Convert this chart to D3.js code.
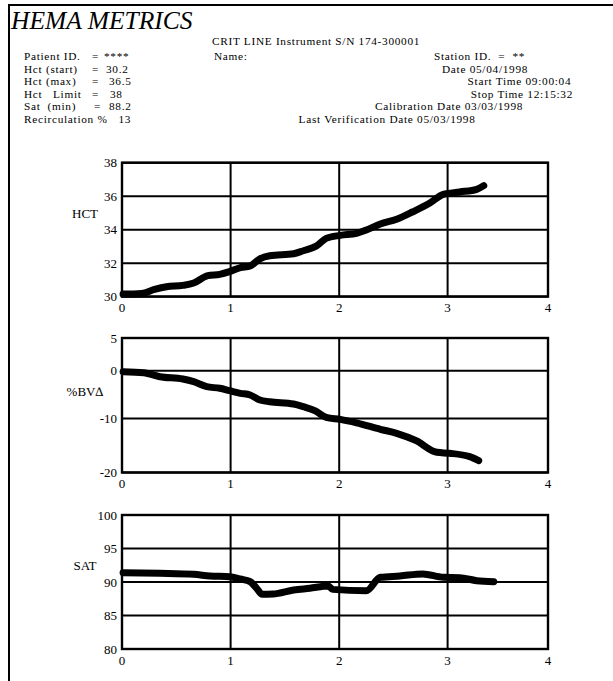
<!DOCTYPE html>
<html>
<head>
<meta charset="utf-8">
<script src="https://cdn.jsdelivr.net/npm/d3@7"></script>
<style>
  html, body { margin: 0; padding: 0; background: #fff; }
  svg { display: block; }
  text { font-family: "Liberation Serif", "Times New Roman", serif; fill: #000; white-space: pre; }
  .hdr { font-size: 11.3px; letter-spacing: 0.7px; }
</style>
</head>
<body>
<svg id="chart" width="613" height="681"></svg>
<script>
// ---------- data ----------
const title = "HEMA METRICS";
const instrumentLine = "CRIT LINE Instrument S/N 174-300001";
const leftLabels = ["Patient ID.", "Hct (start)", "Hct (max)", "Hct   Limit", "Sat  (min)", "Recirculation %"];
const leftEquals = ["=", "=", "=", "=", "=", ""];
const leftValues = ["****", "30.2", "36.5", "38", "88.2", "13"];
const nameLabel = "Name:";
const rightInfo = [
  "Station ID.  =  **",
  "Date 05/04/1998",
  "Start Time 09:00:04",
  "Stop Time 12:15:32",
  "Calibration Date 03/03/1998",
  "Last Verification Date 05/03/1998"
];

const xTicks = [0, 1, 2, 3, 4];

const hctTime  = [0.01, 0.18, 0.30, 0.41, 0.56, 0.66, 0.79, 0.90, 0.99, 1.09, 1.18, 1.27, 1.36, 1.58, 1.67, 1.79, 1.88, 2.01, 2.16, 2.25, 2.38, 2.53, 2.68, 2.84, 2.96, 3.12, 3.29, 3.36];
const hctValue = [30.15, 30.19, 30.43, 30.59, 30.67, 30.81, 31.25, 31.33, 31.49, 31.73, 31.83, 32.26, 32.44, 32.56, 32.74, 33.02, 33.48, 33.66, 33.78, 33.98, 34.34, 34.62, 35.07, 35.61, 36.11, 36.25, 36.41, 36.63];
const hctTicks = [30, 32, 34, 36, 38];

const bvTime  = [0.01, 0.20, 0.35, 0.56, 0.66, 0.78, 0.90, 0.99, 1.09, 1.18, 1.27, 1.36, 1.58, 1.67, 1.78, 1.88, 2.01, 2.16, 2.38, 2.53, 2.71, 2.90, 3.02, 3.22, 3.31];
const bvValue = [-0.21, -0.42, -1.26, -1.74, -2.30, -3.35, -3.68, -4.18, -4.73, -5.08, -6.13, -6.49, -6.97, -7.53, -8.4, -9.75, -10.16, -10.8, -12.0, -12.74, -14.11, -16.26, -16.44, -17.07, -17.81];
const bvTicks = [5, 0, -10, -20];

const satTime  = [0.01, 0.35, 0.66, 0.81, 0.99, 1.09, 1.18, 1.24, 1.29, 1.39, 1.58, 1.73, 1.90, 1.94, 2.25, 2.38, 2.56, 2.77, 2.96, 3.12, 3.29, 3.46];
const satValue = [91.39, 91.3, 91.15, 90.9, 90.8, 90.45, 90.05, 89.06, 88.16, 88.2, 88.8, 89.06, 89.4, 88.9, 88.7, 90.7, 90.9, 91.2, 90.7, 90.64, 90.2, 90.05];
const satTicks = [80, 85, 90, 95, 100];

// ---------- layout ----------
const svg = d3.select("#chart");

// page frame (left and top rules)
svg.append("path")
  .attr("d", "M9,681 V5 H613")
  .attr("fill", "none").attr("stroke", "#000").attr("stroke-width", 2);

svg.append("text")
  .attr("x", 11).attr("y", 29)
  .attr("font-size", 25.5).attr("font-style", "italic")
  .text(title);

svg.append("text").attr("class", "hdr")
  .attr("x", 212).attr("y", 45)
  .text(instrumentLine);

const rowY = d3.scaleLinear().domain([0, 1]).range([60, 72.6]);

// left info block
const eqX = [92, 92, 92, 92, 94, 0];
const valX = [104, 106, 109, 110, 109, 118.5];
const leftBlock = svg.append("text").attr("class", "hdr");
leftLabels.forEach((lab, i) => {
  leftBlock.append("tspan").attr("x", 24).attr("y", rowY(i)).text(lab);
  if (leftEquals[i]) leftBlock.append("tspan").attr("x", eqX[i]).attr("y", rowY(i)).text(leftEquals[i]);
  leftBlock.append("tspan").attr("x", valX[i]).attr("y", rowY(i)).text(leftValues[i]);
});

svg.append("text").attr("class", "hdr").attr("x", 214).attr("y", rowY(0)).text(nameLabel);

// right info block
const rightX = [434, 442, 467.6, 470.7, 375, 298.6];
const rightBlock = svg.append("text").attr("class", "hdr");
rightInfo.forEach((t, i) => {
  rightBlock.append("tspan").attr("x", rightX[i]).attr("y", rowY(i)).text(t);
});

// shared time scale (the printed grid is slightly uneven in the last hour)
const x = d3.scaleLinear().domain([0, 1, 2, 3, 4]).range([122, 230.6, 339.2, 447.6, 548]);

function panel(opts) {
  const { times, values, ticks, yDomain, yRange, label } = opts;
  const y = d3.scaleLinear().domain(yDomain).range(yRange);
  const top = Math.min(...yRange), bottom = Math.max(...yRange);
  const g = svg.append("g");

  g.selectAll("line.h").data(ticks).join("line")
    .attr("x1", x(0)).attr("x2", x(4))
    .attr("y1", d => y(d)).attr("y2", d => y(d))
    .attr("stroke", "#000").attr("stroke-width", 2);
  g.selectAll("line.v").data(xTicks).join("line")
    .attr("x1", d => x(d)).attr("x2", d => x(d))
    .attr("y1", top).attr("y2", bottom)
    .attr("stroke", "#000").attr("stroke-width", 2);
  g.append("rect")
    .attr("x", x(0)).attr("y", top)
    .attr("width", x(4) - x(0)).attr("height", bottom - top)
    .attr("fill", "none").attr("stroke", "#000").attr("stroke-width", 2.4);

  g.selectAll("text.yt").data(ticks).join("text")
    .attr("x", x(0) - 5).attr("y", d => y(d) + 4.5)
    .attr("text-anchor", "end").attr("font-size", 13)
    .text(d => d);
  g.selectAll("text.xt").data(xTicks).join("text")
    .attr("x", d => x(d)).attr("y", bottom + 15.5)
    .attr("text-anchor", "middle").attr("font-size", 13)
    .text(d => d);
  g.append("text")
    .attr("x", 85).attr("y", opts.labelY)
    .attr("text-anchor", "middle").attr("font-size", 13)
    .text(label);

  const line = d3.line()
    .x((d, i) => x(times[i]))
    .y((d, i) => y(values[i]))
    .curve(d3.curveMonotoneX);
  g.append("path")
    .attr("d", line(values))
    .attr("fill", "none").attr("stroke", "#000")
    .attr("stroke-width", 7)
    .attr("stroke-linecap", "round").attr("stroke-linejoin", "round");
}

panel({ times: hctTime, values: hctValue, ticks: hctTicks,
        yDomain: [30, 38], yRange: [296.6, 162.7], label: "HCT", labelY: 218 });
panel({ times: bvTime, values: bvValue, ticks: bvTicks,
        yDomain: [5, 0, -10, -20], yRange: [338, 370.7, 418.5, 472.5], label: "%BV\u2206", labelY: 396 });
panel({ times: satTime, values: satValue, ticks: satTicks,
        yDomain: [80, 100], yRange: [649, 515], label: "SAT", labelY: 570 });
</script>
</body>
</html>
